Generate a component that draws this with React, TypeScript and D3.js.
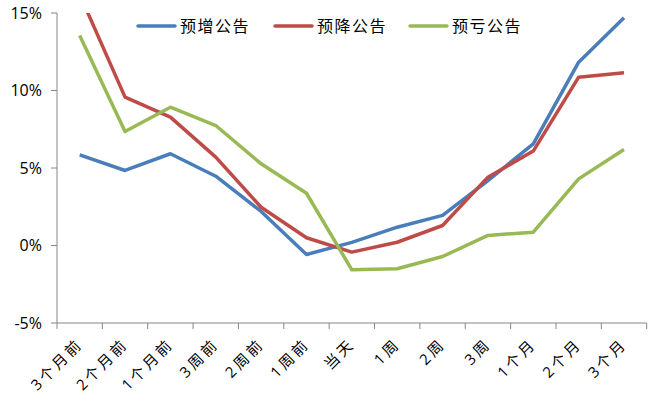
import React from 'react';
import * as d3 from 'd3';

const categories = ['3个月前', '2个月前', '1个月前', '3周前', '2周前', '1周前', '当天', '1周', '2周', '3周', '1个月', '2个月', '3个月'];
const increaseValues = [5.85, 4.84, 5.92, 4.47, 2.2, -0.58, 0.2, 1.18, 1.94, 4.19, 6.56, 11.83, 14.69];
const decreaseValues = [16.2, 9.57, 8.28, 5.7, 2.47, 0.5, -0.43, 0.21, 1.29, 4.41, 6.09, 10.86, 11.14];
const lossValues = [13.55, 7.35, 8.92, 7.74, 5.27, 3.37, -1.57, -1.5, -0.71, 0.65, 0.86, 4.3, 6.19];
const yTicks = [-5, 0, 5, 10, 15];

const series = [
  { name: '预增公告', values: increaseValues, color: '#4A7EBB' },
  { name: '预降公告', values: decreaseValues, color: '#BE4B48' },
  { name: '预亏公告', values: lossValues, color: '#98B954' },
];

const W = 651;
const H = 405;
const left = 57;
const right = 646.7;
const top = 13;
const bottom = 323;
const font = '"Open Sans", "Noto Sans CJK SC", sans-serif';

const App: React.FC = () => {
  const x = d3.scaleBand<string>().domain(categories).range([left, right]);
  const y = d3.scaleLinear().domain([-5, 15]).range([bottom, top]);
  const cx = (c: string) => (x(c) ?? 0) + x.bandwidth() / 2;

  const line = d3.line<number>()
    .x((_, i) => cx(categories[i]))
    .y(d => y(d));

  // tick positions on the category axis: band edges
  const xTickPos = categories.map(c => x(c) ?? 0).concat([right]);

  const legendX = [138, 275, 410];

  return (
    <svg width={W} height={H} style={{ position: 'absolute', left: 0, top: 0, background: '#fff' }}>
      <defs>
        <clipPath id="plot">
          <rect x={left} y={top} width={right - left} height={bottom - top} />
        </clipPath>
      </defs>

      {/* y axis */}
      <line x1={left} x2={left} y1={top} y2={bottom} stroke="#868686" strokeWidth={1} />
      {yTicks.map(t => (
        <g key={t}>
          <line x1={left - 6} x2={left} y1={y(t)} y2={y(t)} stroke="#868686" />
          <text x={42} y={y(t)} dy="0.35em" textAnchor="end" fontSize={16} fontFamily={font} fill="#000">
            {t}%
          </text>
        </g>
      ))}

      {/* x axis */}
      <line x1={left} x2={right} y1={bottom} y2={bottom} stroke="#868686" strokeWidth={1} />
      {xTickPos.map((p, i) => (
        <line key={i} x1={p} x2={p} y1={bottom} y2={bottom + 6} stroke="#868686" />
      ))}
      {categories.map(c => (
        <text
          key={c}
          transform={`translate(${cx(c) + 4},${bottom + 22}) rotate(-45)`}
          textAnchor="end"
          fontSize={15}
          letterSpacing={3}
          fontFamily={font}
          fill="#000"
        >
          {c}
        </text>
      ))}

      {/* lines */}
      <g clipPath="url(#plot)">
        {series.map(s => (
          <path
            key={s.name}
            d={line(s.values) ?? ''}
            fill="none"
            stroke={s.color}
            strokeWidth={3.5}
            strokeLinejoin="round"
          />
        ))}
      </g>

      {/* legend */}
      {series.map((s, i) => (
        <g key={s.name}>
          <line x1={legendX[i]} x2={legendX[i] + 37} y1={26} y2={26} stroke={s.color} strokeWidth={3.5} strokeLinecap="round" />
          <text x={legendX[i] + 42} y={26} dy="0.35em" fontSize={16} letterSpacing={1.5} fontFamily={font} fill="#000">
            {s.name}
          </text>
        </g>
      ))}
    </svg>
  );
};

export default App;
